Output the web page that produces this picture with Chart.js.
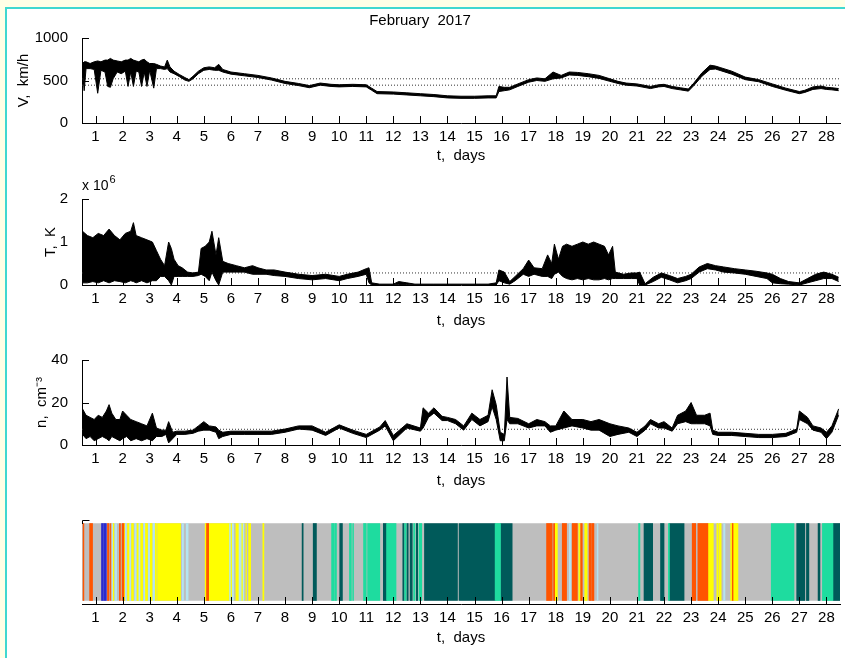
<!DOCTYPE html>
<html>
<head>
<meta charset="utf-8">
<script src="https://cdn.jsdelivr.net/npm/chart.js@4/dist/chart.umd.min.js"></script>
<style>
  body { margin: 0; background: #ffffe6; width: 845px; height: 658px; overflow: hidden; position: relative; }
  #frame { position: absolute; left: 5px; top: 7px; width: 845px; height: 660px; background: #fff;
           border-left: 2px solid #40d8d0; border-top: 2px solid #40d8d0; }
  canvas { position: absolute; left: 0; }
</style>
</head>
<body>
<div id="frame"></div>
<canvas id="vChart" width="845" height="165" style="top:0px"></canvas>
<canvas id="tChart" width="845" height="165" style="top:165px"></canvas>
<canvas id="nChart" width="845" height="160" style="top:330px"></canvas>
<canvas id="sChart" width="845" height="157" style="top:490px"></canvas>
<script>
// x axis ticks (days of February 2017)
const dayTicks = [1, 2, 3, 4, 5, 6, 7, 8, 9, 10, 11, 12, 13, 14, 15, 16, 17, 18, 19, 20, 21, 22, 23, 24, 25, 26, 27, 28];

// solar wind speed, km/h (lower and upper envelope of the noisy trace)
const vDays = [0.52, 0.58, 0.65, 0.8, 0.95, 1.08, 1.2, 1.35, 1.45, 1.55, 1.65, 1.8, 1.95, 2.1, 2.2, 2.3, 2.4, 2.5, 2.6, 2.7, 2.8, 2.9, 3.0, 3.15, 3.25, 3.4, 3.55, 3.65, 3.75, 3.9, 4.1, 4.3, 4.45, 4.6, 4.8, 5.0, 5.2, 5.4, 5.55, 5.7, 6.0, 6.5, 7.0, 7.5, 8.0, 8.5, 8.9, 9.3, 9.7, 10.0, 10.5, 11.0, 11.2, 11.4, 12.0, 12.5, 13.0, 13.5, 14.0, 14.5, 15.0, 15.5, 15.8, 15.9, 16.1, 16.3, 16.6, 17.0, 17.3, 17.6, 17.9, 18.2, 18.5, 18.8, 19.2, 19.6, 20.0, 20.3, 20.6, 21.0, 21.5, 21.8, 22.0, 22.3, 22.6, 22.9, 23.1, 23.4, 23.7, 23.9, 24.1, 24.5, 25.0, 25.5, 26.0, 26.5, 27.0, 27.2, 27.5, 27.8, 28.0, 28.2, 28.45];
const vLow  = [600, 380, 640, 640, 630, 350, 620, 600, 430, 420, 520, 600, 580, 610, 430, 600, 430, 610, 600, 430, 600, 430, 620, 410, 640, 640, 630, 640, 600, 580, 545, 505, 490, 520, 580, 620, 630, 620, 620, 600, 575, 555, 535, 505, 465, 440, 415, 445, 430, 425, 430, 425, 385, 345, 340, 330, 320, 310, 295, 290, 290, 295, 295, 370, 380, 390, 430, 480, 500, 490, 520, 530, 565, 560, 545, 525, 490, 465, 445, 435, 405, 425, 430, 405, 390, 375, 440, 550, 630, 635, 615, 575, 510, 485, 430, 385, 345, 360, 395, 405, 395, 390, 380];
const vHigh = [700, 720, 720, 700, 720, 730, 720, 740, 740, 760, 740, 730, 720, 740, 740, 760, 740, 730, 720, 740, 750, 720, 700, 700, 690, 670, 660, 740, 660, 610, 570, 535, 510, 550, 610, 650, 660, 650, 690, 630, 600, 580, 560, 530, 490, 465, 440, 470, 455, 450, 455, 450, 410, 370, 365, 355, 345, 335, 320, 315, 315, 320, 320, 430, 420, 420, 460, 510, 530, 520, 600, 560, 600, 595, 580, 560, 520, 490, 470, 460, 430, 450, 455, 430, 415, 400, 470, 590, 680, 670, 650, 610, 540, 510, 460, 410, 370, 385, 425, 435, 420, 415, 405];
const vRefLines = [520, 445];
const vTicks = [0, 500, 1000];

// proton temperature, 10^6 K
const tDays = [0.52, 0.7, 0.9, 1.1, 1.3, 1.5, 1.7, 1.9, 2.1, 2.3, 2.4, 2.5, 2.7, 2.9, 3.1, 3.25, 3.4, 3.55, 3.7, 3.8, 3.9, 4.05, 4.2, 4.4, 4.6, 4.8, 4.9, 5.05, 5.2, 5.3, 5.45, 5.55, 5.7, 5.9, 6.2, 6.5, 6.8, 7.0, 7.3, 7.6, 8.0, 8.5, 9.0, 9.5, 10.0, 10.3, 10.7, 11.0, 11.1, 11.2, 11.5, 12.0, 12.2, 12.5, 12.8, 13.5, 14.5, 15.5, 15.8, 15.9, 16.1, 16.3, 16.5, 16.8, 17.0, 17.2, 17.5, 17.7, 17.85, 17.95, 18.1, 18.25, 18.4, 18.6, 18.8, 19.0, 19.2, 19.4, 19.6, 19.8, 19.95, 20.1, 20.2, 20.5, 20.8, 21.0, 21.1, 21.3, 21.6, 21.9, 22.2, 22.5, 22.8, 23.0, 23.3, 23.6, 23.9, 24.2, 24.6, 25.0, 25.4, 25.8, 26.0, 26.3, 26.6, 27.0, 27.3, 27.6, 27.9, 28.2, 28.45];
const tLow  = [0.05, 0.05, 0.08, 0.05, 0.1, 0.05, 0.1, 0.08, 0.05, 0.1, 0.08, 0.05, 0.1, 0.05, 0.1, 0.1, 0.2, 0.2, 0.1, 0.0, 0.2, 0.2, 0.2, 0.2, 0.2, 0.22, 0.25, 0.2, 0.1, 0.3, 0.1, 0.0, 0.3, 0.3, 0.3, 0.3, 0.25, 0.25, 0.25, 0.22, 0.2, 0.15, 0.12, 0.15, 0.1, 0.15, 0.2, 0.25, 0.05, 0.0, 0.0, 0.0, 0.01, 0.01, 0.0, 0.0, 0.0, 0.0, 0.0, 0.1, 0.05, 0.02, 0.1, 0.25, 0.2, 0.25, 0.2, 0.2, 0.15, 0.25, 0.3, 0.2, 0.15, 0.12, 0.15, 0.12, 0.15, 0.12, 0.12, 0.15, 0.12, 0.15, 0.15, 0.15, 0.15, 0.15, 0.0, 0.0, 0.08, 0.18, 0.12, 0.05, 0.1, 0.15, 0.3, 0.38, 0.35, 0.3, 0.28, 0.25, 0.2, 0.15, 0.05, 0.03, 0.02, 0.0, 0.05, 0.1, 0.15, 0.15, 0.08];
const tHigh = [1.25, 1.15, 1.1, 1.2, 1.15, 1.3, 1.15, 1.05, 1.2, 1.25, 1.45, 1.15, 1.1, 1.05, 1.0, 0.8, 0.6, 0.45, 1.0, 0.85, 0.6, 0.45, 0.4, 0.3, 0.28, 0.3, 0.85, 0.9, 1.0, 1.25, 0.7, 1.1, 0.55, 0.5, 0.45, 0.4, 0.45, 0.4, 0.35, 0.35, 0.3, 0.25, 0.22, 0.25, 0.2, 0.25, 0.3, 0.38, 0.4, 0.05, 0.02, 0.02, 0.08, 0.05, 0.02, 0.02, 0.02, 0.02, 0.05, 0.35, 0.3, 0.08, 0.2, 0.38, 0.58, 0.4, 0.38, 0.7, 0.5, 0.95, 0.6, 0.9, 0.95, 0.9, 0.95, 1.0, 0.95, 1.0, 0.95, 0.9, 0.7, 0.9, 0.3, 0.25, 0.28, 0.28, 0.3, 0.03, 0.18, 0.28, 0.22, 0.15, 0.2, 0.25, 0.42, 0.5, 0.45, 0.42, 0.38, 0.35, 0.32, 0.28, 0.25, 0.15, 0.08, 0.05, 0.15, 0.25, 0.3, 0.25, 0.18];
const tRefLines = [0.28];
const tTicks = [0, 1, 2];

// proton density, cm^-3
const nDays = [0.52, 0.65, 0.8, 0.95, 1.1, 1.25, 1.4, 1.5, 1.6, 1.75, 1.9, 2.0, 2.15, 2.3, 2.5, 2.7, 2.9, 3.1, 3.25, 3.45, 3.6, 3.7, 3.85, 4.0, 4.3, 4.6, 4.8, 5.0, 5.2, 5.45, 5.55, 5.7, 6.0, 6.5, 7.0, 7.5, 8.0, 8.5, 9.0, 9.5, 10.0, 10.5, 11.0, 11.5, 11.7, 12.0, 12.5, 13.0, 13.1, 13.3, 13.5, 13.8, 14.0, 14.3, 14.6, 14.9, 15.2, 15.5, 15.65, 15.8, 15.95, 16.1, 16.2, 16.3, 16.6, 17.0, 17.3, 17.6, 17.8, 18.0, 18.3, 18.6, 19.0, 19.3, 19.6, 20.0, 20.3, 20.7, 21.0, 21.3, 21.5, 21.8, 22.0, 22.3, 22.5, 22.8, 23.0, 23.2, 23.5, 23.7, 23.8, 24.0, 24.5, 25.0, 25.5, 26.0, 26.5, 26.9, 27.0, 27.3, 27.5, 27.8, 28.0, 28.2, 28.45];
const nLow  = [5, 3, 4, 2, 3, 4, 3, 2, 4, 3, 2, 3, 4, 2, 3, 2, 3, 2, 4, 4, 5, 1, 3, 5, 5, 5.5, 6.5, 7, 7, 6, 3, 4, 5, 5, 5, 5, 6, 7.5, 7, 4.5, 8, 5.5, 3.5, 7, 9, 2, 8, 6.5, 8, 13, 15, 11.5, 11.5, 10, 7, 12, 9, 11, 18, 12, 2, 2, 12, 10, 10, 8, 9, 9, 6, 7, 8, 9, 8, 7, 7, 4, 5, 6, 4, 7, 10, 8, 8, 6.5, 10, 11, 10, 10, 10, 9, 5, 4.5, 4.5, 4, 3.5, 3.5, 4, 6, 12, 10, 7, 6, 3, 6, 14];
const nHigh = [17, 14, 13, 12, 14, 13, 16, 19, 15, 12, 12, 16, 14, 12, 11, 10, 9, 15, 8, 7, 7, 11, 6, 6.5, 6.5, 7, 9, 11, 9, 8.5, 7, 6, 6.5, 6.5, 6.5, 6.5, 7.5, 9, 9, 6, 9.5, 7, 5, 8.5, 11.5, 4.5, 10, 8, 17.5, 15, 17.5, 13.5, 13, 12, 9, 15, 12, 14, 26, 19, 6, 5, 32, 13, 12.5, 10, 12, 11, 9, 9, 16, 12, 12, 11, 12, 10, 9, 8, 6, 9, 12, 10, 11, 8, 14, 16, 20, 14, 14, 15, 7, 6, 6, 5.5, 5, 5, 5.5, 7.5, 16, 13, 9, 8, 6, 9, 17];
const nRefLines = [7.4];
const nTicks = [0, 20, 40];

// solar wind type intervals [start day, end day] drawn over a grey background
const grayIntervals = [[0.5, 28.5]];
const yellowIntervals = [[1.63, 1.68], [2.05, 2.1], [2.18, 2.26], [2.33, 2.4], [2.52, 2.6], [2.66, 2.74], [2.84, 2.92], [3.02, 3.1], [3.2, 3.25], [3.29, 4.14], [5.05, 5.1], [5.18, 6.73], [7.18, 7.22], [17.96, 18.06], [18.85, 18.9], [19.07, 19.16], [23.62, 23.82], [23.95, 24.0], [24.04, 24.11], [24.46, 24.73]];
const grayGapIntervals = [[6.13, 6.16], [6.5, 6.53], [6.6, 6.63]];
const orangeIntervals = [[0.54, 0.57], [0.78, 0.89], [1.44, 1.5], [1.55, 1.58], [1.88, 1.92], [1.98, 2.05], [5.1, 5.18], [17.66, 17.87], [17.92, 17.96], [18.24, 18.4], [18.61, 18.8], [18.92, 18.98], [19.23, 19.32], [19.35, 19.41], [23.04, 23.17], [23.25, 23.62], [24.52, 24.55]];
const blueIntervals = [[1.22, 1.28], [1.3, 1.4]];
const paleBlueIntervals = [[1.6, 1.63], [1.72, 1.78], [2.1, 2.14], [2.26, 2.3], [2.45, 2.5], [2.6, 2.64], [2.78, 2.82], [2.95, 3.0], [3.12, 3.18], [4.2, 4.25], [4.35, 4.42], [5.95, 5.98], [6.05, 6.1], [6.3, 6.38], [6.45, 6.48], [18.5, 18.55], [19.53, 19.56], [24.2, 24.25]];
const darkTealIntervals = [[8.63, 8.67], [9.04, 9.16], [10.02, 10.12], [11.63, 11.75], [12.35, 12.4], [12.5, 12.55], [12.62, 12.7], [12.85, 12.9], [13.15, 14.37], [14.43, 15.76], [15.96, 16.39], [21.26, 21.58], [21.87, 22.0], [22.2, 22.74], [26.9, 27.2], [27.26, 27.35], [27.69, 27.76], [28.25, 28.5]];
const turquoiseIntervals = [[9.72, 9.8], [9.83, 9.9], [10.38, 10.45], [10.5, 10.53], [10.9, 11.0], [11.05, 11.5], [11.75, 12.1], [12.42, 12.47], [12.75, 12.8], [12.95, 13.05], [15.76, 15.96], [21.06, 21.11], [22.16, 22.2], [25.96, 26.8], [27.85, 28.24]];

const FONT = { family: 'Liberation Sans, Arial, sans-serif', size: 15, weight: 'normal' };
Chart.defaults.font.family = FONT.family;
Chart.defaults.font.size = FONT.size;
Chart.defaults.color = '#000';

// MATLAB style: tick marks point into the plot
const inwardTicks = {
    id: 'inwardTicks',
    afterDraw(chart, args, opts) {
        const ctx = chart.ctx;
        const area = chart.chartArea;
        ctx.save();
        ctx.strokeStyle = '#000';
        ctx.lineWidth = 1;
        const xs = chart.scales.x;
        xs.ticks.forEach(t => {
            const px = Math.round(xs.getPixelForValue(t.value)) + 0.5;
            ctx.beginPath();
            ctx.moveTo(px, area.bottom);
            ctx.lineTo(px, area.bottom - 7);
            ctx.stroke();
        });
        if (opts.yTicks) {
            const ys = chart.scales.y;
            ys.ticks.forEach(t => {
                const py = Math.round(ys.getPixelForValue(t.value)) + 0.5;
                ctx.beginPath();
                ctx.moveTo(area.left, py);
                ctx.lineTo(area.left + 7, py);
                ctx.stroke();
            });
        }
        if (opts.topTick) {
            const left = Math.round(area.left) + 0.5;
            ctx.beginPath();
            ctx.moveTo(left, area.top + 4);
            ctx.lineTo(left, area.top + 0.5);
            ctx.lineTo(left + 7, area.top + 0.5);
            ctx.stroke();
        }
        ctx.restore();
    }
};

const exponentLabel = {
    id: 'exponentLabel',
    afterDraw(chart, args, opts) {
        if (!opts.text) return;
        const ctx = chart.ctx;
        const area = chart.chartArea;
        ctx.save();
        ctx.fillStyle = '#000';
        ctx.textBaseline = 'alphabetic';
        ctx.font = '14px ' + FONT.family;
        ctx.fillText(opts.text, area.left, area.top - 9);
        const w = ctx.measureText(opts.text).width;
        ctx.font = '11px ' + FONT.family;
        ctx.fillText(opts.power, area.left + w + 1, area.top - 16);
        ctx.restore();
    }
};

function xAxis(height) {
    return {
        type: 'linear',
        min: 0.5,
        max: 28.5,
        afterBuildTicks: s => { s.ticks = dayTicks.map(v => ({ value: v })); },
        afterFit: s => { s.height = height; },
        ticks: { autoSkip: false, maxRotation: 0, padding: -3, font: FONT },
        grid: { display: false },
        border: { display: true, color: '#000', width: 1 },
        title: { display: true, text: 't,  days', font: FONT, padding: { top: 0, bottom: 0 } }
    };
}

function tracePanel(id, days, low, high, refLines, yMax, yTicks, yTitle, titleOffset, topPad, title, power) {
    const datasets = [
        {
            data: days.map((d, i) => ({ x: d, y: low[i] })),
            borderColor: '#000', borderWidth: 1, pointRadius: 0, fill: false, order: 1
        },
        {
            data: days.map((d, i) => ({ x: d, y: high[i] })),
            borderColor: '#000', borderWidth: 1, pointRadius: 0, fill: '-1', backgroundColor: '#000', order: 1
        }
    ];
    refLines.forEach(r => {
        datasets.push({
            data: [{ x: 0.5, y: r }, { x: 28.5, y: r }],
            borderColor: '#333', borderWidth: 1, borderDash: [1, 2], pointRadius: 0, fill: false, order: 2
        });
    });
    return new Chart(document.getElementById(id), {
        type: 'line',
        data: { datasets },
        options: {
            responsive: false,
            animation: false,
            layout: { padding: { left: 0, right: 5, top: topPad, bottom: 0 } },
            scales: {
                x: xAxis(id === 'vChart' ? 42 : 45),
                y: {
                    type: 'linear',
                    min: 0,
                    max: yMax,
                    afterBuildTicks: s => { s.ticks = yTicks.map(v => ({ value: v })); },
                    afterFit: s => { s.width = 82; },
                    ticks: { padding: 6, font: FONT, callback: v => String(v) },
                    grid: { display: false },
                    border: { display: true, color: '#000', width: 1 },
                    title: { display: true, text: yTitle, font: FONT, padding: { top: titleOffset, bottom: 0 } }
                }
            },
            plugins: {
                legend: { display: false },
                tooltip: { enabled: false },
                title: title ? { display: true, text: title, font: FONT, color: '#000', padding: { top: 12, bottom: 8 } } : { display: false },
                inwardTicks: { yTicks: true },
                exponentLabel: { text: power ? 'x 10' : '', power: power }
            }
        },
        plugins: [inwardTicks, exponentLabel]
    });
}

tracePanel('vChart', vDays, vLow, vHigh, vRefLines, 1000, vTicks, 'V,  km/h', 15, 0, 'February  2017', null);
tracePanel('tChart', tDays, tLow, tHigh, tRefLines, 2, tTicks, 'T,  K', 42, 34, null, '6');
tracePanel('nChart', nDays, nLow, nHigh, nRefLines, 40, nTicks, 'n,  cm\u207B\u00B3', 33, 30, null, null);

// solar wind type strip; Chart.js paints the first dataset on top,
// so the coloured layers go first and the grey background last
const stripLayers = [
    [turquoiseIntervals, '#1edc9f'],
    [darkTealIntervals, '#005a5a'],
    [paleBlueIntervals, '#b4e4f0'],
    [blueIntervals, '#2a2ad0'],
    [orangeIntervals, '#ff5500'],
    [grayGapIntervals, '#bebebe'],
    [yellowIntervals, '#ffff00'],
    [grayIntervals, '#bebebe']
];
const stripSets = [];
stripLayers.forEach(([intervals, color]) => {
    intervals.forEach(iv => {
        stripSets.push({
            data: [[iv[0], iv[1]]],
            backgroundColor: color,
            borderWidth: 0,
            barThickness: 77,
            grouped: false
        });
    });
});

new Chart(document.getElementById('sChart'), {
    type: 'bar',
    data: { labels: ['type'], datasets: stripSets },
    options: {
        indexAxis: 'y',
        responsive: false,
        animation: false,
        layout: { padding: { left: 0, right: 5, top: 30, bottom: 0 } },
        scales: {
            x: xAxis(43),
            y: {
                type: 'category',
                afterFit: s => { s.width = 82; },
                ticks: { display: false },
                grid: { display: false },
                border: { display: false }
            }
        },
        plugins: {
            legend: { display: false },
            tooltip: { enabled: false },
            inwardTicks: { yTicks: false, topTick: true }
        }
    },
    plugins: [inwardTicks]
});
</script>
</body>
</html>
